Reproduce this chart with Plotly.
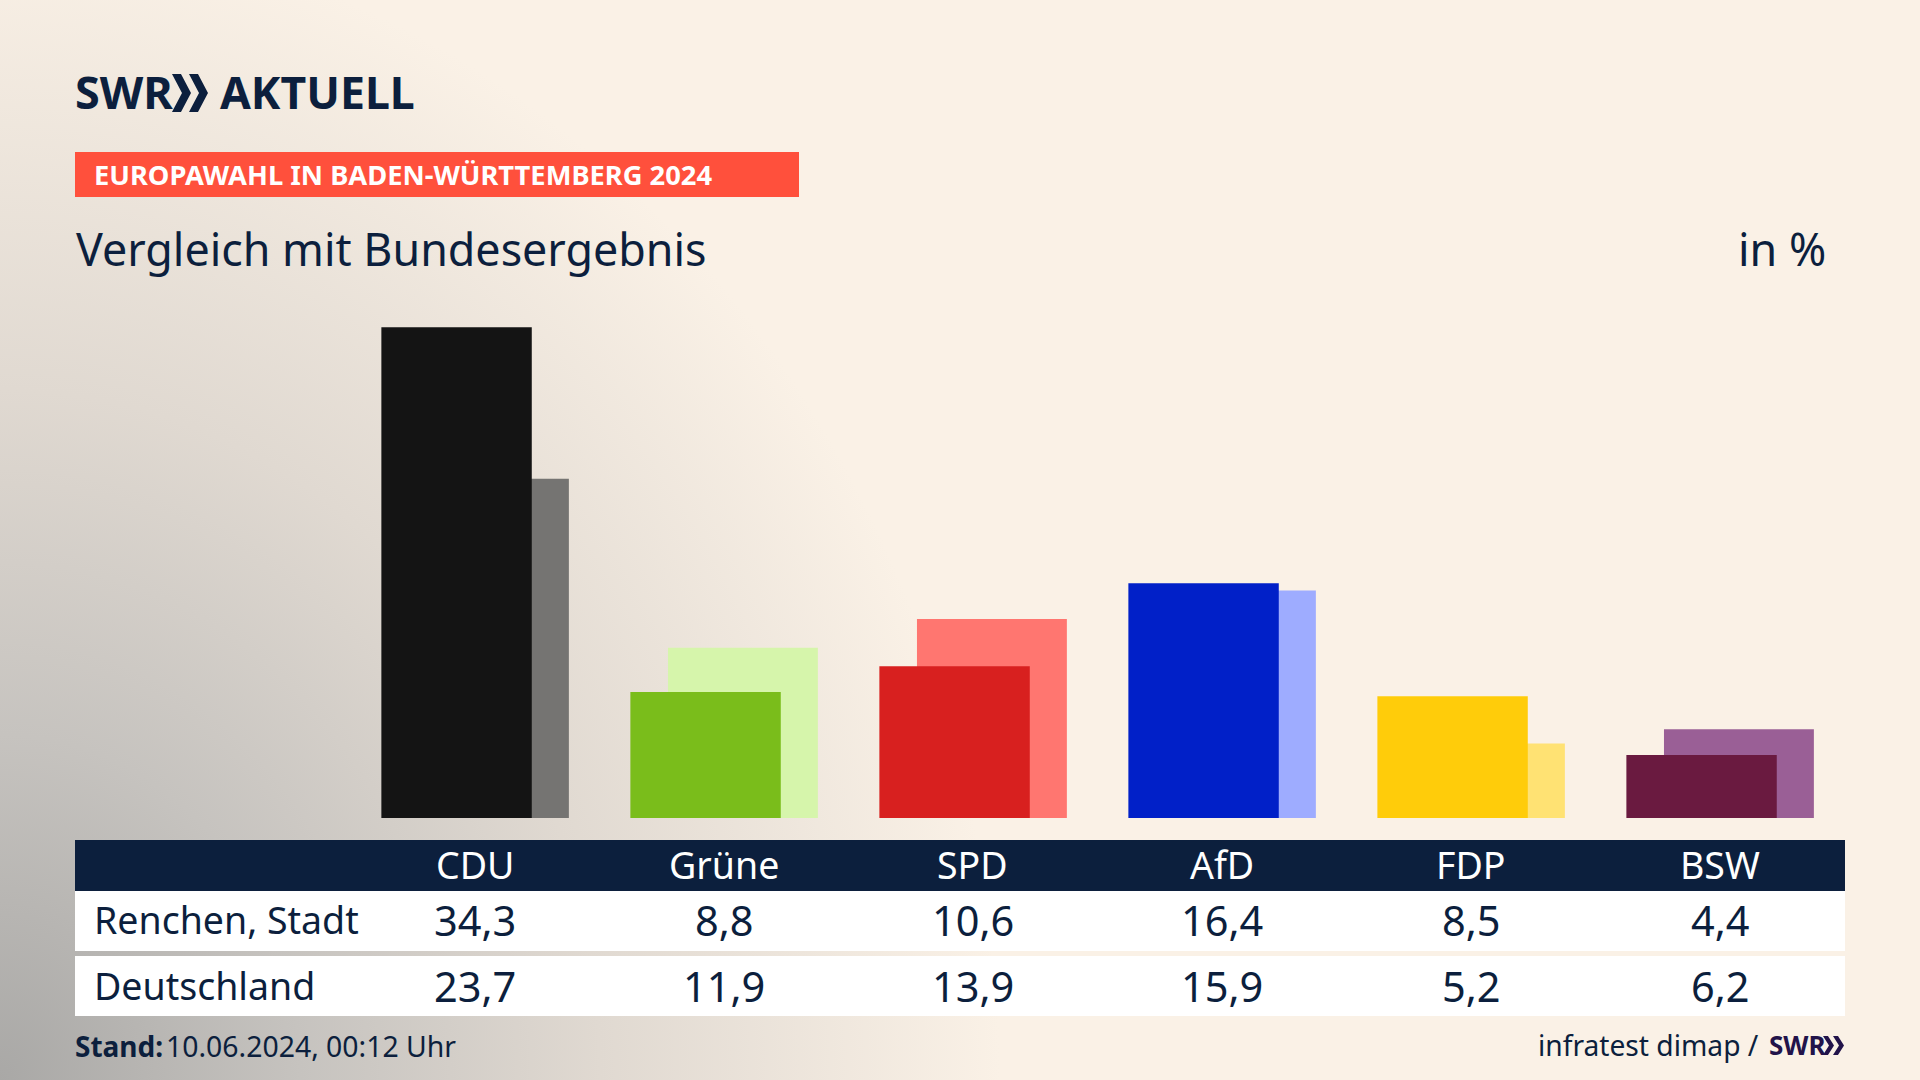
import base64
import plotly.graph_objects as go

parties = ["CDU", "Grüne", "SPD", "AfD", "FDP", "BSW"]
renchen = [34.3, 8.8, 10.6, 16.4, 8.5, 4.4]
deutschland = [23.7, 11.9, 13.9, 15.9, 5.2, 6.2]
front_colors = ["#141414", "#7abd1b", "#d8201f", "#0120c8", "#ffcc0a", "#6a1a40"]
back_colors = ["#757472", "#d6f5ab", "#ff7670", "#9eacff", "#ffe273", "#9a5f96"]
row_labels = ["Renchen, Stadt", "Deutschland"]

W, H = 1920, 1080
NAVY = "#0c1f3d"
FONT = "Noto Sans"


def fx(px):
    return px / W


def fy(py):
    return 1 - py / H


def fmt(v):
    return f"{v:.1f}".replace(".", ",")


svg = f'''<svg xmlns="http://www.w3.org/2000/svg" width="{W}" height="{H}" viewBox="0 0 {W} {H}">
<defs><radialGradient id="g" gradientUnits="userSpaceOnUse" cx="0" cy="{H}" r="1"
 gradientTransform="translate(0 {H}) scale(1000 1150) translate(0 -{H})">
<stop offset="0" stop-color="#a9a8a6"/><stop offset="0.3" stop-color="#c6c3bf"/>
<stop offset="0.6" stop-color="#e0d9d1"/><stop offset="1" stop-color="#faf1e6"/>
</radialGradient></defs><rect width="{W}" height="{H}" fill="#faf1e6"/><rect width="{W}" height="{H}" fill="url(#g)"/></svg>'''
bg = "data:image/svg+xml;base64," + base64.b64encode(svg.encode()).decode()

fig = go.Figure()
fig.add_bar(x=parties, y=deutschland, name="Deutschland", marker_color=back_colors,
            marker_line_width=0, width=0.602, offset=-0.225)
fig.add_bar(x=parties, y=renchen, name="Renchen, Stadt", marker_color=front_colors,
            marker_line_width=0, width=0.604, offset=-0.376)

shapes = []


def rect(x0, y0, x1, y1, color):
    shapes.append(dict(type="rect", xref="paper", yref="paper", x0=fx(x0), x1=fx(x1),
                       y0=fy(y1), y1=fy(y0), fillcolor=color, line_width=0, layer="below"))


def chevrons(x, top, bottom, w, thick, step, color):
    mid = (top + bottom) / 2
    for k in range(2):
        ox = x + k * step
        pts = [(ox, top), (ox + thick, top), (ox + w, mid), (ox + thick, bottom), (ox, bottom), (ox + w - thick, mid)]
        path = "M " + " L ".join(f"{fx(a):.5f} {fy(b):.5f}" for a, b in pts) + " Z"
        shapes.append(dict(type="path", xref="paper", yref="paper", path=path, fillcolor=color, line_width=0))


rect(75, 152, 799, 197, "#ff503c")
rect(75, 840, 1845, 891, NAVY)
rect(75, 891, 1845, 951, "#ffffff")
rect(75, 956, 1845, 1016, "#ffffff")
chevrons(172, 74, 112, 19, 9, 17, NAVY)
chevrons(1823, 1036, 1055, 11, 5, 10, "#22134a")

annotations = []


def text(s, x, y, size, color=NAVY, anchor="left", family=FONT):
    annotations.append(dict(text=s, x=fx(x), y=fy(y), xref="paper", yref="paper", showarrow=False,
                            xanchor=anchor, yanchor="middle", align=anchor,
                            font=dict(size=size, color=color, family=family), borderpad=0))


text("<b>SWR</b>", 74, 92, 45)
text("<b>AKTUELL</b>", 219, 92, 44.6)
text("<b>EUROPAWAHL IN BADEN-WÜRTTEMBERG 2024</b>", 93, 174.5, 27.3, "#ffffff")
text("Vergleich mit Bundesergebnis", 75, 248, 44.8)
text("in %", 1827, 248, 44.8, anchor="right")

for i, p in enumerate(parties):
    cx = 475 + 249 * i
    text(p, cx, 864, 37.5, "#ffffff", "center")
    text(fmt(renchen[i]), cx, 920, 41.5, anchor="center")
    text(fmt(deutschland[i]), cx, 986, 41.5, anchor="center")
text(row_labels[0], 93, 919, 37.5)
text(row_labels[1], 93, 985, 37.5)
text("<b>Stand:</b>", 74, 1046, 28)
text("10.06.2024, 00:12 Uhr", 457, 1046, 28.4, anchor="right")
text("infratest dimap /", 1760, 1045, 28.2, anchor="right")
text("<b>SWR</b>", 1768, 1045, 26, "#22134a")

fig.update_layout(
    width=W, height=H, margin=dict(l=0, r=0, t=0, b=0), barmode="overlay",
    paper_bgcolor="#faf1e6", plot_bgcolor="rgba(0,0,0,0)", showlegend=False,
    xaxis=dict(range=[-1.9076, 5.8032], visible=False, categoryorder="array", categoryarray=parties),
    yaxis=dict(range=[0, 57.16], domain=[1 - 818 / H, 1], visible=False),
    shapes=shapes, annotations=annotations,
    images=[dict(source=bg, xref="paper", yref="paper", x=0, y=1, sizex=1, sizey=1,
                 xanchor="left", yanchor="top", sizing="stretch", layer="below")],
)
fig.write_html("out.html", config={"displayModeBar": False}, post_script="document.body.style.margin='0';")
